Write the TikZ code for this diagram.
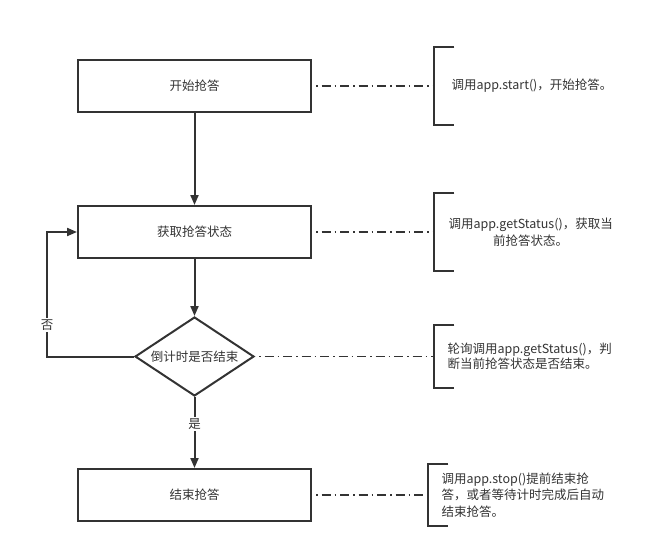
\documentclass[tikz,border=0pt]{standalone}
\usepackage{fontspec}
\setmainfont{Noto Sans CJK SC}
\usepackage{xcolor}
\usetikzlibrary{arrows.meta,shapes.geometric,positioning}
\definecolor{ink}{HTML}{333333}

\begin{document}
\begin{tikzpicture}[x=1pt,y=-1pt,
    every node/.style={font=\fontsize{12.5}{16.5}\selectfont, text=ink},
    box/.style={draw=ink, line width=2pt, minimum width=233pt, minimum height=52pt, inner sep=0pt},
    choice/.style={draw=ink, line width=2pt, diamond, aspect=1.5, minimum width=119pt, minimum height=79pt, inner sep=0pt},
    flow/.style={draw=ink, line width=2pt, -{Triangle[length=10pt,width=8pt]}},
    note/.style={draw=ink, line width=1.8pt, dash pattern=on 1.5pt off 4pt on 9pt off 4pt, shorten <=4pt},
    brace/.style={minimum width=20pt, inner sep=0pt},
    tag/.style={fill=white, inner sep=1.5pt},
    ]
    \useasboundingbox (0,0) rectangle (662,552);

    \node[box] (start) at (194.5,86) {开始抢答};
    \node[box, below=92pt of start] (status) {获取抢答状态};
    \node[choice, below=57pt of status] (check) {倒计时是否结束};
    \node[box, below=71pt of check] (finish) {结束抢答};
    \coordinate[left=87pt of check.west] (loop);

    \draw[flow] (start) -- (status);
    \draw[flow] (status) -- (check);
    \draw[flow] (check) -- (finish) node[pos=0.38, tag] {是};
    \draw[flow] (check.west) -- (loop) |- (status.west) node[pos=0.125, tag] {否};

    % notes
    \node[brace, minimum height=78pt, right=122pt of start.east] (b1) {};
    \node[brace, minimum height=78pt, right=122pt of status.east] (b2) {};
    \node[brace, minimum height=62pt, right=179pt of check.east] (b3) {};
    \node[brace, minimum height=62pt, right=116pt of finish.east] (b4) {};
    \foreach \b in {b1,b2,b3,b4}
        \draw[draw=ink, line width=2pt] (\b.north east) -- (\b.north west) -- (\b.south west) -- (\b.south east);

    \node[right=14pt of b1.west] (t1) {调用app.start()，开始抢答。};
    \node[right=11pt of b2.west, align=center] (t2) {调用app.getStatus()，获取当\\前抢答状态。};
    \node[right=10pt of b3.west, align=left, font=\fontsize{12.5}{14.5}\selectfont] (t3) {轮询调用app.getStatus()，判\\断当前抢答状态是否结束。};
    \node[right=10pt of b4.west, align=left] (t4) {调用app.stop()提前结束抢\\答，或者等待计时完成后自动\\结束抢答。};

    \draw[note] (start.east) -- (b1.west);
    \draw[note] (status.east) -- (b2.west);
    \draw[note] (check.east) -- (b3.west);
    \draw[note] (finish.east) -- (b4.west);
\end{tikzpicture}
\end{document}
